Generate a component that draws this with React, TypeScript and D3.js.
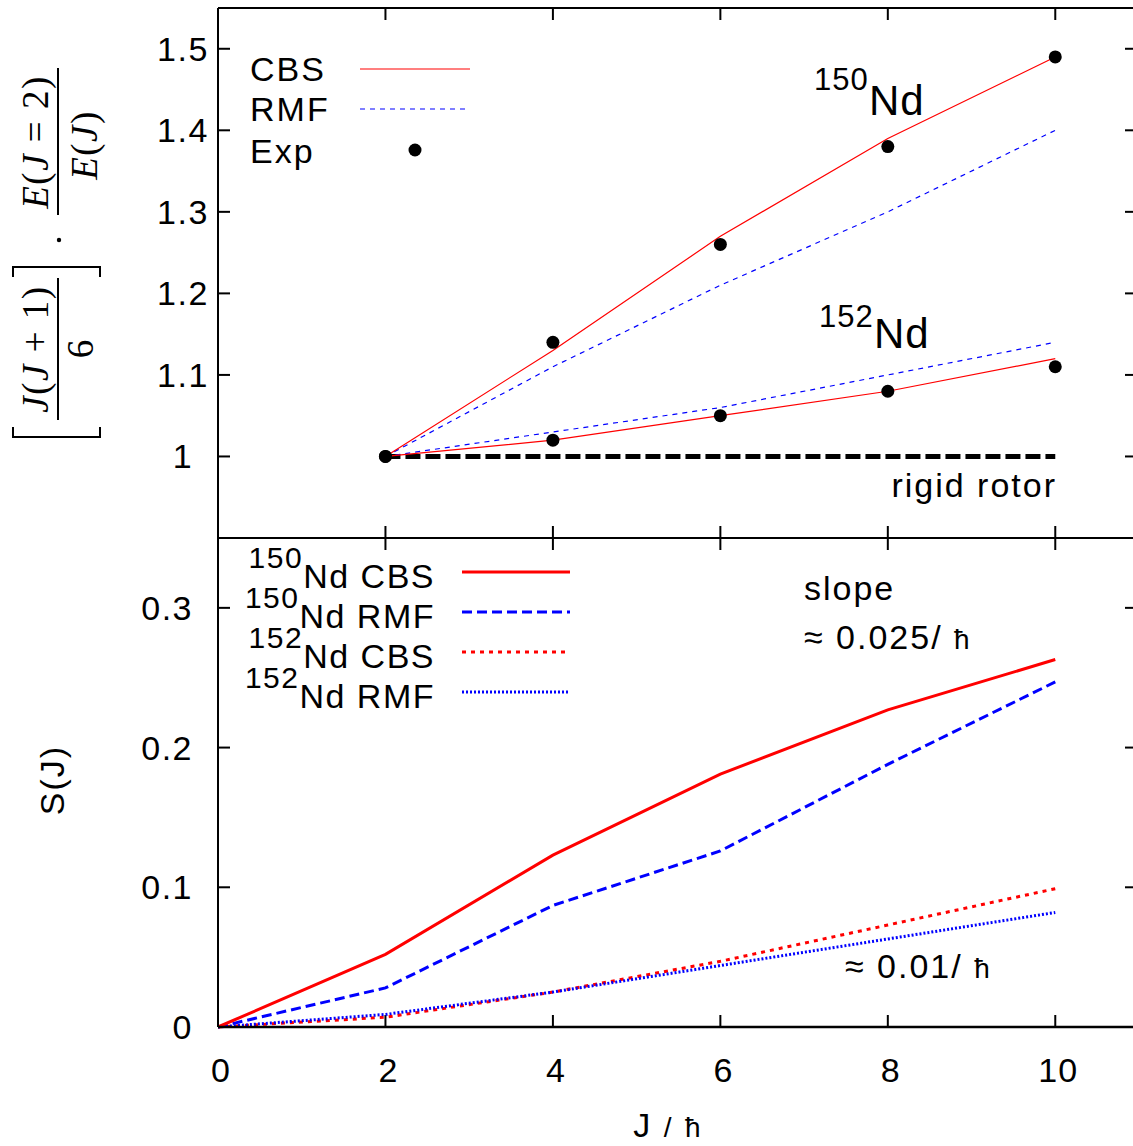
import React from "react";
import * as d3 from "d3";

// ---- data ----
const jTop = [2, 4, 6, 8, 10];
const cbs150 = [1, 1.13, 1.27, 1.39, 1.49];
const rmf150 = [1, 1.11, 1.21, 1.3, 1.4];
const exp150 = [1, 1.14, 1.26, 1.38, 1.49];
const cbs152 = [1, 1.02, 1.05, 1.08, 1.12];
const rmf152 = [1, 1.03, 1.06, 1.1, 1.14];
const exp152 = [1, 1.02, 1.05, 1.08, 1.11];
const rigidJ = [2, 10];
const rigidVal = [1, 1];

const jBot = [0, 2, 4, 6, 8, 10];
const sCbs150 = [0, 0.052, 0.123, 0.181, 0.227, 0.263];
const sRmf150 = [0, 0.028, 0.087, 0.126, 0.188, 0.247];
const sCbs152 = [0, 0.007, 0.025, 0.047, 0.073, 0.099];
const sRmf152 = [0, 0.009, 0.025, 0.044, 0.063, 0.082];

const xTicks = [0, 2, 4, 6, 8, 10];
const yTopTicks = [1, 1.1, 1.2, 1.3, 1.4, 1.5];
const yBotTicks = [0, 0.1, 0.2, 0.3];

const FONT = "'Liberation Sans', Arial, Helvetica, sans-serif";
const SERIF = "'Liberation Serif', 'Times New Roman', serif";

export default function App() {
  const L = 218, R = 1139, T = 8, M = 538, B = 1027;
  const x = d3.scaleLinear().domain([0, 11]).range([L, R]);
  const yT = d3.scaleLinear().domain([0.9, 1.55]).range([M, T]);
  const yB = d3.scaleLinear().domain([0, 0.35]).range([B, M]);

  const lineT = (xs: number[], ys: number[]) =>
    d3.line<number>().x((_, i) => x(xs[i])).y((d) => yT(d))(ys) || "";
  const lineB = (xs: number[], ys: number[]) =>
    d3.line<number>().x((_, i) => x(xs[i])).y((d) => yB(d))(ys) || "";

  const tl = 12;
  const ls = 2;

  return (
    <svg width={1133} height={1146} style={{ position: "absolute", left: 0, top: 0, background: "#fff" }}
      fontFamily={FONT}>
      <rect x={0} y={0} width={1133} height={1146} fill="#fff" />

      {/* ---------- TOP PANEL ---------- */}
      {yTopTicks.map((t) => (
        <g key={"yt" + t}>
          <line x1={L} x2={L + tl} y1={yT(t)} y2={yT(t)} stroke="#000" strokeWidth={2} />
          <line x1={R} x2={R - tl - 2} y1={yT(t)} y2={yT(t)} stroke="#000" strokeWidth={2} />
          <text x={183} y={yT(t) + 12} fontSize={34} textAnchor="middle" letterSpacing={1.5}>{String(t)}</text>
        </g>
      ))}
      {xTicks.filter((t) => t > 0).map((t) => (
        <g key={"xt" + t}>
          <line x1={x(t)} x2={x(t)} y1={T} y2={T + tl} stroke="#000" strokeWidth={2} />
          <line x1={x(t)} x2={x(t)} y1={M} y2={M - tl} stroke="#000" strokeWidth={2} />
        </g>
      ))}

      {/* rigid rotor */}
      <path d={lineT(rigidJ, rigidVal)} fill="none" stroke="#000" strokeWidth={5} strokeDasharray="15,5" />
      {/* lines */}
      <path d={lineT(jTop, rmf150)} fill="none" stroke="#0000ff" strokeWidth={1.2} strokeDasharray="5,5" />
      <path d={lineT(jTop, rmf152)} fill="none" stroke="#0000ff" strokeWidth={1.2} strokeDasharray="5,5" />
      <path d={lineT(jTop, cbs150)} fill="none" stroke="#ff0000" strokeWidth={1.2} />
      <path d={lineT(jTop, cbs152)} fill="none" stroke="#ff0000" strokeWidth={1.2} />
      {exp150.map((v, i) => (
        <circle key={"e150" + i} cx={x(jTop[i])} cy={yT(v)} r={6.5} fill="#000" />
      ))}
      {exp152.map((v, i) => (
        <circle key={"e152" + i} cx={x(jTop[i])} cy={yT(v)} r={6.5} fill="#000" />
      ))}

      {/* top legend */}
      <text x={250} y={81} fontSize={34} letterSpacing={ls}>CBS</text>
      <line x1={360} x2={470} y1={69} y2={69} stroke="#ff0000" strokeWidth={1.2} />
      <text x={250} y={121} fontSize={34} letterSpacing={ls}>RMF</text>
      <line x1={360} x2={468} y1={109} y2={109} stroke="#0000ff" strokeWidth={1.2} strokeDasharray="5,5" />
      <text x={250} y={163} fontSize={34} letterSpacing={ls}>Exp</text>
      <circle cx={415} cy={150} r={6.5} fill="#000" />

      {/* labels */}
      <text x={814} y={90} fontSize={31} letterSpacing={1}>150</text>
      <text x={869} y={115} fontSize={42} letterSpacing={1}>Nd</text>
      <text x={819} y={327} fontSize={31} letterSpacing={1}>152</text>
      <text x={874} y={348} fontSize={42} letterSpacing={1}>Nd</text>
      <text x={1057} y={497} fontSize={34} textAnchor="end" letterSpacing={ls}>rigid rotor</text>

      {/* y label (math) */}
      <g transform="translate(60,255) rotate(-90)" fontFamily={SERIF} fontSize={37}>
        <path d="M -172,-47 L -182,-47 L -182,40 L -172,40" fill="none" stroke="#000" strokeWidth={2} />
        <text x={-94} y={-12} textAnchor="middle" letterSpacing={1.5}>
          <tspan fontStyle="italic">J</tspan>(<tspan fontStyle="italic">J</tspan> + 1)
        </text>
        <line x1={-165} x2={-23} y1={-2} y2={-2} stroke="#000" strokeWidth={2} />
        <text x={-94} y={33} textAnchor="middle">6</text>
        <path d="M -22,-47 L -12,-47 L -12,40 L -22,40" fill="none" stroke="#000" strokeWidth={2} />
        <circle cx={15} cy={-1} r={2.2} fill="#000" />
        <text x={113} y={-12} textAnchor="middle" letterSpacing={1.5}>
          <tspan fontStyle="italic">E</tspan>(<tspan fontStyle="italic">J</tspan> = 2)
        </text>
        <line x1={40} x2={187} y1={-2} y2={-2} stroke="#000" strokeWidth={2} />
        <text x={110} y={37} textAnchor="middle" letterSpacing={1.5}>
          <tspan fontStyle="italic">E</tspan>(<tspan fontStyle="italic">J</tspan>)
        </text>
      </g>

      {/* ---------- BOTTOM PANEL ---------- */}
      {yBotTicks.map((t) => (
        <g key={"yb" + t}>
          <line x1={L} x2={L + tl} y1={yB(t)} y2={yB(t)} stroke="#000" strokeWidth={2} />
          <line x1={R} x2={R - tl - 2} y1={yB(t)} y2={yB(t)} stroke="#000" strokeWidth={2} />
          <text x={193} y={yB(t) + 12} fontSize={34} textAnchor="end" letterSpacing={1.5}>{String(t)}</text>
        </g>
      ))}
      {xTicks.map((t) => (
        <g key={"xb" + t}>
          {t > 0 && <line x1={x(t)} x2={x(t)} y1={B} y2={B - tl} stroke="#000" strokeWidth={2} />}
          {t > 0 && <line x1={x(t)} x2={x(t)} y1={M} y2={M + tl} stroke="#000" strokeWidth={2} />}
          <text x={x(t) + 3} y={B + 55} fontSize={34} textAnchor="middle" letterSpacing={1}>{String(t)}</text>
        </g>
      ))}

      <path d={lineB(jBot, sCbs152)} fill="none" stroke="#ff0000" strokeWidth={3} strokeDasharray="4,5" />
      <path d={lineB(jBot, sRmf152)} fill="none" stroke="#0000ff" strokeWidth={3} strokeDasharray="2,2" />
      <path d={lineB(jBot, sRmf150)} fill="none" stroke="#0000ff" strokeWidth={3} strokeDasharray="10,5" />
      <path d={lineB(jBot, sCbs150)} fill="none" stroke="#ff0000" strokeWidth={3} />

      {/* bottom legend */}
      {[
        { iso: "150", name: "CBS", color: "#ff0000", dash: "none" },
        { iso: "150", name: "RMF", color: "#0000ff", dash: "10,5" },
        { iso: "152", name: "CBS", color: "#ff0000", dash: "4,5" },
        { iso: "152", name: "RMF", color: "#0000ff", dash: "2,2" },
      ].map((e, i) => {
        const ly = 572 + i * 40;
        return (
          <g key={"lg" + i}>
            <text x={435} y={ly + 16} fontSize={34} textAnchor="end" letterSpacing={1.5}>
              <tspan fontSize={30} dy={-20}>{e.iso}</tspan>
              <tspan dy={20}>{"Nd " + e.name}</tspan>
            </text>
            <line x1={462} x2={570} y1={ly} y2={ly} stroke={e.color} strokeWidth={3}
              strokeDasharray={e.dash === "none" ? undefined : e.dash} />
          </g>
        );
      })}

      <text x={804} y={600} fontSize={34} letterSpacing={ls}>slope</text>
      <text x={804} y={649} fontSize={34} letterSpacing={ls}>≈ 0.025/ <tspan fontSize={28}>ħ</tspan></text>
      <text x={845} y={978} fontSize={34} letterSpacing={ls}>≈ 0.01/ <tspan fontSize={28}>ħ</tspan></text>

      <text transform="translate(64,780) rotate(-90)" fontSize={34} textAnchor="middle" letterSpacing={ls}>S(J)</text>
      <text x={668} y={1137} fontSize={34} textAnchor="middle" letterSpacing={ls}>J <tspan fontSize={28}>/</tspan> <tspan fontSize={28}>ħ</tspan></text>

      {/* frame */}
      <line x1={L} x2={L} y1={T} y2={B} stroke="#000" strokeWidth={2} />
      <line x1={L} x2={1133} y1={T} y2={T} stroke="#000" strokeWidth={2} />
      <line x1={L} x2={1133} y1={M} y2={M} stroke="#000" strokeWidth={2} />
      <line x1={L} x2={1133} y1={B} y2={B} stroke="#000" strokeWidth={2.5} />
    </svg>
  );
}
